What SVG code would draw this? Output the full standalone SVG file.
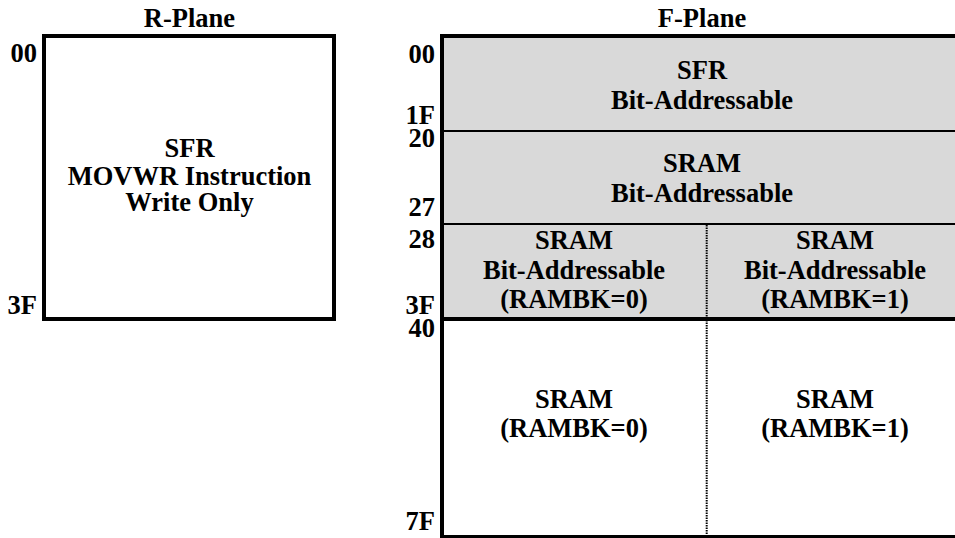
<svg xmlns="http://www.w3.org/2000/svg" width="955" height="538" viewBox="0 0 955 538">
<style>
text{font-family:"Liberation Serif","Times New Roman",serif;font-weight:bold;font-size:26.5px;fill:#000}
.c{text-anchor:middle}
.r{text-anchor:end}
.box{fill:none;stroke:#000;stroke-width:4}
.thin{stroke:#000;stroke-width:2}
.thick{stroke:#000;stroke-width:4}
.dash{stroke:#000;stroke-width:2;stroke-dasharray:1.5 1}
</style>
<rect width="955" height="538" fill="#fff"/>
<g id="r-plane">
<text class="c" x="189.5" y="27">R-Plane</text>
<rect x="44" y="36" width="290" height="283" fill="#fff" class="box"/>
<text class="c" x="189.5" y="157">SFR</text>
<text class="c" x="189.5" y="185">MOVWR Instruction</text>
<text class="c" x="189.5" y="211">Write Only</text>
<text class="r" x="37" y="62">00</text>
<text class="r" x="37" y="314">3F</text>
</g>
<g id="f-plane">
<text class="c" x="702" y="27">F-Plane</text>
<rect x="442" y="36" width="521" height="283" fill="#d9d9d9"/>
<rect x="442" y="319" width="521" height="218" fill="#fff"/>
</g>
<g id="f-sfr">
<text class="c" x="702" y="79">SFR</text>
<text class="c" x="702" y="109">Bit-Addressable</text>
</g>
<g id="f-sram-bit">
<text class="c" x="702" y="171.5">SRAM</text>
<text class="c" x="702" y="201.5">Bit-Addressable</text>
</g>
<g id="f-sram-bit-bk0">
<text class="c" x="574" y="249">SRAM</text>
<text class="c" x="574" y="279">Bit-Addressable</text>
<text class="c" x="574" y="308">(RAMBK=0)</text>
</g>
<g id="f-sram-bit-bk1">
<text class="c" x="835" y="249">SRAM</text>
<text class="c" x="835" y="279">Bit-Addressable</text>
<text class="c" x="835" y="308">(RAMBK=1)</text>
</g>
<g id="f-sram-bk0">
<text class="c" x="574" y="408">SRAM</text>
<text class="c" x="574" y="436.5">(RAMBK=0)</text>
</g>
<g id="f-sram-bk1">
<text class="c" x="835" y="408">SRAM</text>
<text class="c" x="835" y="436.5">(RAMBK=1)</text>
</g>
<g id="connectors">
<line class="thin" x1="442" y1="131" x2="963" y2="131"/>
<line class="thin" x1="442" y1="224" x2="963" y2="224"/>
<line class="thick" x1="442" y1="319" x2="963" y2="319"/>
<line class="dash" x1="706.7" y1="225" x2="706.7" y2="536"/>
<rect x="442" y="36" width="521" height="501" class="box"/>
</g>
<g id="addresses">
<text class="r" x="435" y="63">00</text>
<text class="r" x="435" y="124">1F</text>
<text class="r" x="435" y="147">20</text>
<text class="r" x="435" y="216">27</text>
<text class="r" x="435" y="248">28</text>
<text class="r" x="435" y="314">3F</text>
<text class="r" x="435" y="337">40</text>
<text class="r" x="435" y="530">7F</text>
</g>
</svg>
